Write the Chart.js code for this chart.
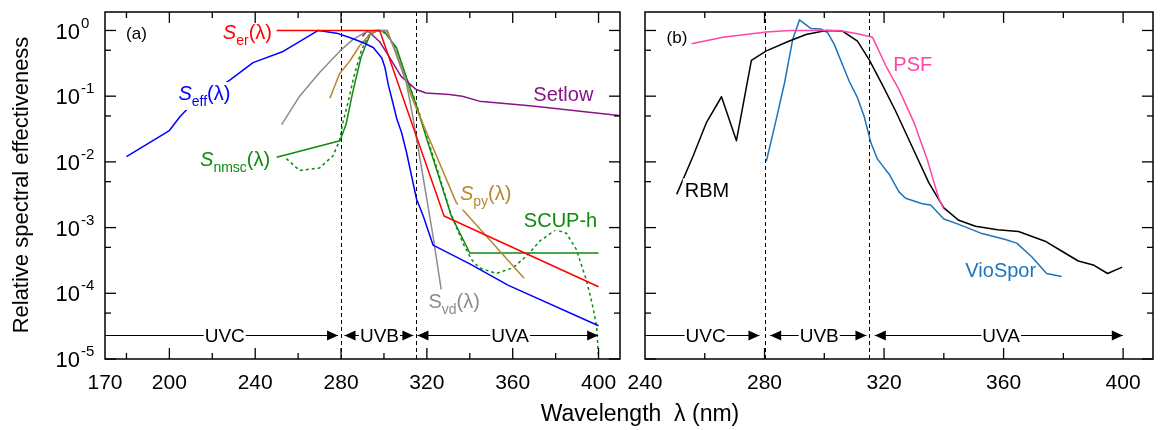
<!DOCTYPE html>
<html>
<head>
<meta charset="utf-8">
<script src="https://cdn.jsdelivr.net/npm/chart.js@4.4.0/dist/chart.umd.min.js"></script>
<style>
  body { margin: 0; background: #fff; width: 1160px; height: 430px; position: relative; overflow: hidden;
         font-family: 'Liberation Sans', Arial, Helvetica, sans-serif; }
  #left { position: absolute; left: 0; top: 0; }
  #right { position: absolute; left: 615px; top: 0; }
  #xtitle { position: absolute; left: 490px; width: 300px; top: 402px; text-align: center;
            font-size: 23px; line-height: 23px; color: #000; }
</style>
</head>
<body>
<canvas id="left" width="630" height="430"></canvas>
<canvas id="right" width="545" height="430"></canvas>
<div id="xtitle">Wavelength&nbsp; λ (nm)</div>
<script>
const FONT = "'Liberation Sans', Arial, Helvetica, sans-serif";

// ---- panel (a) action spectra (wavelength nm / relative effectiveness) ----
const seffWl  = [180, 200, 205, 211, 228, 239, 253, 269.4, 278, 284, 290.4, 295, 299, 300.5, 302, 304, 306, 308.2, 310.5, 315.2, 318.3, 322.9, 340, 358, 400];
const seffVal = [0.012, 0.030, 0.049, 0.079, 0.174, 0.324, 0.479, 1.0, 0.91, 0.78, 0.65, 0.55, 0.38, 0.27, 0.15, 0.083, 0.045, 0.028, 0.014, 0.0027, 0.0015, 5.4e-4, 2.8e-4, 1.32e-4, 3.2e-5];

const serWl  = [250, 298, 328, 400];
const serVal = [1.0, 1.0, 1.5e-3, 1.26e-4];

const snmscWl  = [250, 279.5, 282.3, 285.5, 289.3, 293.5, 297, 300, 305.8, 310.5, 315, 320, 325, 331.4, 340, 400];
const snmscVal = [0.0118, 0.021, 0.037, 0.117, 0.39, 0.87, 1.0, 0.97, 0.55, 0.19, 0.074, 0.022, 0.0068, 0.0015, 4.1e-4, 4.1e-4];

const scupWl  = [254.5, 260.7, 270, 276.2, 279.3, 280.9, 283.2, 286, 289.5, 293, 297, 301, 306, 310.5, 315, 320, 325, 331, 337, 341, 344.4, 352.3, 360.2, 366.4, 373, 380.2, 385, 389.6, 394.3, 397, 399.1, 400];
const scupVal = [0.0112, 0.0074, 0.0081, 0.0123, 0.021, 0.04, 0.079, 0.2, 0.5, 0.87, 1.0, 0.9, 0.5, 0.19, 0.078, 0.024, 0.0074, 0.0017, 5.6e-4, 3.2e-4, 2.45e-4, 2.0e-4, 2.45e-4, 3.7e-4, 6.4e-4, 9.3e-4, 8.2e-4, 4.7e-4, 1.6e-4, 7e-5, 3.2e-5, 1e-5];

const spyWl  = [274.8, 279.3, 284, 288.6, 293.3, 297.2, 301.6, 313.3, 333.7, 365.3];
const spyVal = [0.093, 0.22, 0.34, 0.58, 0.87, 1.0, 1.0, 0.09, 0.0024, 1.7e-4];

const svdWl  = [252.3, 260.7, 270, 279.3, 285.3, 291, 295.6, 301, 305.6, 310.3, 313.3, 318, 322.7, 326.8];
const svdVal = [0.037, 0.10, 0.23, 0.48, 0.72, 0.93, 1.0, 1.0, 0.48, 0.17, 0.052, 0.0065, 8e-4, 1.07e-4];

const setlowWl  = [290, 292.3, 297.9, 302.6, 308, 313.3, 315, 319.6, 330.5, 336.5, 344.4, 369.2, 409.5];
const setlowVal = [0.81, 1.0, 0.68, 0.39, 0.20, 0.141, 0.126, 0.112, 0.106, 0.10, 0.084, 0.071, 0.051];

// ---- panel (b) ----
const rbmWl  = [250.6, 256.1, 260.6, 265.6, 270.6, 275.6, 280.6, 288.3, 293.9, 300.6, 306.1, 311.1, 315, 319.4, 323.9, 329.4, 335, 340, 345, 350.6, 358, 365, 373.9, 379.4, 385, 390, 394.8, 399.7];
const rbmVal = [3.2e-3, 0.0123, 0.040, 0.098, 0.021, 0.35, 0.49, 0.69, 0.87, 1.0, 0.98, 0.69, 0.36, 0.15, 0.059, 0.017, 0.0048, 0.002, 1.29e-3, 1.05e-3, 9.3e-4, 8.7e-4, 6.2e-4, 4.4e-4, 3.1e-4, 2.7e-4, 2.0e-4, 2.5e-4];

const psfWl  = [255.6, 266.1, 280.6, 288.3, 305, 311.1, 316.1, 320.6, 325, 330, 334.4, 338.3, 340];
const psfVal = [0.63, 0.79, 0.95, 1.0, 1.0, 0.89, 0.79, 0.29, 0.126, 0.040, 0.011, 0.0028, 0.0019];

const vioWl  = [280.6, 283.9, 286.7, 289.4, 291.7, 295.6, 298.9, 301.1, 303.3, 306.1, 308.3, 311.1, 313.3, 315.6, 317.8, 321.7, 325, 327.2, 332.8, 335.6, 340, 345, 352.8, 360.6, 364.4, 369.4, 374.4, 379.4];
const vioVal = [0.0102, 0.044, 0.16, 0.72, 1.45, 1.07, 1.05, 0.93, 0.62, 0.30, 0.17, 0.095, 0.050, 0.0195, 0.011, 0.0065, 0.0035, 0.0028, 0.0023, 0.0022, 0.00135, 0.00112, 8.1e-4, 6.6e-4, 5.8e-4, 3.6e-4, 2.0e-4, 1.8e-4];

// ---- axes ----
const xMajorA = [200, 240, 280, 320, 360, 400];
const xMinorA = [180, 220, 260, 300, 340, 380];
const xLabelsA = [170, 200, 240, 280, 320, 360, 400];
const xMajorB = [280, 320, 360, 400];
const xMinorB = [260, 300, 340, 380];
const xLabelsB = [240, 280, 320, 360, 400];
const yMajor = [1e-5, 1e-4, 1e-3, 1e-2, 1e-1, 1];
const yMinor = [5e-5, 5e-4, 5e-3, 5e-2, 5e-1];

// UV bands
const bandNames = ['UVC', 'UVB', 'UVA'];
const bandEdges = [280, 315];
const bandLevel = 2.28e-5;
const bandFromA = [170, 281.6, 315.6], bandToA = [278.6, 313.7, 399.8], bandMidA = [225.8, 297.9, 358.8];
const bandFromB = [240, 281.9, 316.9], bandToB = [278.3, 314.1, 399.9], bandMidB = [260.3, 298.3, 359.2];

const BLUE = '#0000ff', RED = '#ff0000', GREEN = '#0e8a0e', GOLD = '#b5882e', GRAY = '#8c8c8c',
      PURPLE = '#881488', PINK = '#ff45a6', VIO = '#1c75bc';

const labelsA = [
  { parts: [['(a)', '']], wl: 179.8, val: 0.93, color: '#000', size: 17 },
  { parts: [['S', 'i'], ['er', 's'], ['(λ)', '']], wl: 247.8, val: 0.95, color: RED, align: 'right' },
  { parts: [['S', 'i'], ['eff', 's'], ['(λ)', '']], wl: 204.2, val: 0.112, color: BLUE },
  { parts: [['S', 'i'], ['nmsc', 's'], ['(λ)', '']], wl: 214.3, val: 0.0111, color: GREEN },
  { parts: [['Setlow', '']], wl: 369.6, val: 0.11, color: PURPLE },
  { parts: [['S', 'i'], ['py', 's'], ['(λ)', '']], wl: 335.4, val: 0.0034, color: GOLD },
  { parts: [['SCUP-h', '']], wl: 365.2, val: 0.00133, color: GREEN },
  { parts: [['S', ''], ['vd', 's'], ['(λ)', '']], wl: 320.7, val: 7.8e-5, color: GRAY }
];
const labelsB = [
  { parts: [['(b)', '']], wl: 247.2, val: 0.81, color: '#000', size: 17 },
  { parts: [['PSF', '']], wl: 323.1, val: 0.316, color: PINK },
  { parts: [['RBM', '']], wl: 253.3, val: 0.0038, color: '#000' },
  { parts: [['VioSpor', '']], wl: 347.2, val: 2.3e-4, color: VIO, noBg: true }
];

function pts(wl, val) { return wl.map((w, i) => ({ x: w, y: val[i] })); }

function line(data, color, dash) {
  return { data, borderColor: color, borderWidth: 1.5, borderDash: dash || [], pointRadius: 0,
           tension: 0, fill: false, borderJoinStyle: 'round' };
}

function richDraw(ctx, parts, x, yMid, color, size, align, noBg) {
  const segs = parts.map(([t, st]) => {
    const fs = st === 's' ? Math.round(size * 0.72) : size;
    const font = (st === 'i' ? 'italic ' : '') + fs + 'px ' + FONT;
    ctx.font = font;
    return { t, st, font, w: ctx.measureText(t).width };
  });
  const total = segs.reduce((s, g) => s + g.w, 0);
  const hasSub = segs.some(g => g.st === 's');
  let cx = align === 'right' ? x - total : x;
  const base = yMid + size * 0.36;
  if (!noBg) {
    ctx.fillStyle = '#fff';
    ctx.fillRect(cx - 2, yMid - size * 0.55, total + 4, size * 1.1 + (hasSub ? size * 0.3 : 0));
  }
  ctx.fillStyle = color;
  ctx.textAlign = 'left';
  ctx.textBaseline = 'alphabetic';
  segs.forEach(g => {
    ctx.font = g.font;
    ctx.fillText(g.t, cx, g.st === 's' ? base + size * 0.3 : base);
    cx += g.w;
  });
}

function arrowHead(ctx, tip, yy, dir) {
  ctx.beginPath();
  ctx.moveTo(tip, yy);
  ctx.lineTo(tip - dir * 11, yy - 5);
  ctx.lineTo(tip - dir * 11, yy + 5);
  ctx.closePath();
  ctx.fill();
}

function decoPlugin(p) {
  return {
    id: 'deco',
    beforeDatasetsDraw(chart) {
      const { ctx, chartArea: a, scales: { x } } = chart;
      ctx.save();
      ctx.strokeStyle = '#000';
      ctx.lineWidth = 1;
      ctx.setLineDash([4, 3]);
      bandEdges.forEach(w => {
        const px = Math.round(x.getPixelForValue(w)) + 0.5;
        ctx.beginPath(); ctx.moveTo(px, a.top); ctx.lineTo(px, a.bottom); ctx.stroke();
      });
      ctx.restore();
    },
    afterDatasetsDraw(chart) {
      const { ctx, chartArea: a, scales: { x, y } } = chart;
      ctx.save();

      // UV band arrows
      const by = Math.round(y.getPixelForValue(bandLevel)) + 0.5;
      ctx.strokeStyle = '#000'; ctx.fillStyle = '#000'; ctx.lineWidth = 1;
      bandNames.forEach((name, i) => {
        const x0 = x.getPixelForValue(p.from[i]), x1 = x.getPixelForValue(p.to[i]);
        ctx.beginPath(); ctx.moveTo(x0, by); ctx.lineTo(x1, by); ctx.stroke();
        arrowHead(ctx, x1, by, 1);
        if (i > 0) arrowHead(ctx, x0, by, -1);
        ctx.font = '19px ' + FONT;
        const w = ctx.measureText(name).width;
        const xm = x.getPixelForValue(p.mid[i]);
        ctx.fillStyle = '#fff';
        ctx.fillRect(xm - w / 2 - 1, by - 9, w + 2, 18);
        ctx.fillStyle = '#000';
        ctx.textAlign = 'center'; ctx.textBaseline = 'middle';
        ctx.fillText(name, xm, by + 1);
      });

      // curve labels
      p.labels.forEach(l => {
        richDraw(ctx, l.parts, x.getPixelForValue(l.wl), y.getPixelForValue(l.val), l.color, l.size || 20, l.align, l.noBg);
      });

      // frame
      ctx.strokeStyle = '#000';
      ctx.lineWidth = 1.5;
      ctx.strokeRect(a.left, a.top, a.right - a.left, a.bottom - a.top);

      // inward ticks
      ctx.lineWidth = 1.3;
      const tick = (x0, y0, x1, y1) => { ctx.beginPath(); ctx.moveTo(x0, y0); ctx.lineTo(x1, y1); ctx.stroke(); };
      p.xMajor.forEach(v => { const px = x.getPixelForValue(v); tick(px, a.bottom, px, a.bottom - 11); tick(px, a.top, px, a.top + 11); });
      p.xMinor.forEach(v => { const px = x.getPixelForValue(v); tick(px, a.bottom, px, a.bottom - 6); tick(px, a.top, px, a.top + 6); });
      yMajor.forEach(v => { const py = y.getPixelForValue(v); tick(a.left, py, a.left + 11, py); tick(a.right, py, a.right - 11, py); });
      yMinor.forEach(v => { const py = y.getPixelForValue(v); tick(a.left, py, a.left + 6, py); tick(a.right, py, a.right - 6, py); });

      if (p.yLabels) {
        ctx.fillStyle = '#000';
        yMajor.forEach(v => {
          const py = y.getPixelForValue(v);
          ctx.font = '22px ' + FONT;
          ctx.textAlign = 'right'; ctx.textBaseline = 'middle';
          ctx.fillText('10', a.left - 25, py + 2);
          ctx.font = '15px ' + FONT;
          ctx.textAlign = 'left';
          ctx.fillText(String(Math.round(Math.log10(v))), a.left - 24, py - 7);
        });
        ctx.save();
        ctx.translate(22, 185);
        ctx.rotate(-Math.PI / 2);
        ctx.font = '22px ' + FONT;
        ctx.textAlign = 'center'; ctx.textBaseline = 'middle';
        ctx.fillText('Relative spectral effectiveness', 0, 0);
        ctx.restore();
      }
      ctx.restore();
    }
  };
}

function makeChart(id, datasets, xmin, xLabels, padding, p) {
  return new Chart(document.getElementById(id), {
    type: 'line',
    data: { datasets },
    options: {
      responsive: false,
      animation: false,
      layout: { padding },
      plugins: { legend: { display: false }, tooltip: { enabled: false } },
      scales: {
        x: {
          type: 'linear', min: xmin, max: 410, bounds: 'data',
          afterBuildTicks: s => { s.ticks = [xmin].concat(p.xMinor, p.xMajor).sort((a, b) => a - b).map(v => ({ value: v })); },
          afterFit: s => { s.height = 71; },
          grid: { display: false, drawTicks: false },
          border: { display: false },
          ticks: {
            color: '#000', font: { size: 21, family: FONT }, padding: 12,
            maxRotation: 0, minRotation: 0, autoSkip: false,
            callback: v => xLabels.includes(v) ? String(v) : ''
          }
        },
        y: { type: 'logarithmic', min: 1e-5, max: 1.91, bounds: 'data', display: false }
      }
    },
    plugins: [decoPlugin(p)]
  });
}

makeChart('left', [
  line(pts(serWl, serVal), RED),
  line(pts(seffWl, seffVal), BLUE),
  line(pts(svdWl, svdVal), GRAY),
  line(pts(spyWl, spyVal), GOLD),
  line(pts(setlowWl, setlowVal), PURPLE),
  line(pts(scupWl, scupVal), GREEN, [3, 3]),
  line(pts(snmscWl, snmscVal), GREEN)
], 170, xLabelsA, { left: 105, right: 10, top: 12, bottom: 0 },
  { from: bandFromA, to: bandToA, mid: bandMidA, labels: labelsA, xMajor: xMajorA, xMinor: xMinorA, yLabels: true });

makeChart('right', [
  line(pts(psfWl, psfVal), PINK),
  line(pts(rbmWl, rbmVal), '#000'),
  line(pts(vioWl, vioVal), VIO)
], 240, xLabelsB, { left: 30, right: 7, top: 12, bottom: 0 },
  { from: bandFromB, to: bandToB, mid: bandMidB, labels: labelsB, xMajor: xMajorB, xMinor: xMinorB, yLabels: false });
</script>
</body>
</html>
